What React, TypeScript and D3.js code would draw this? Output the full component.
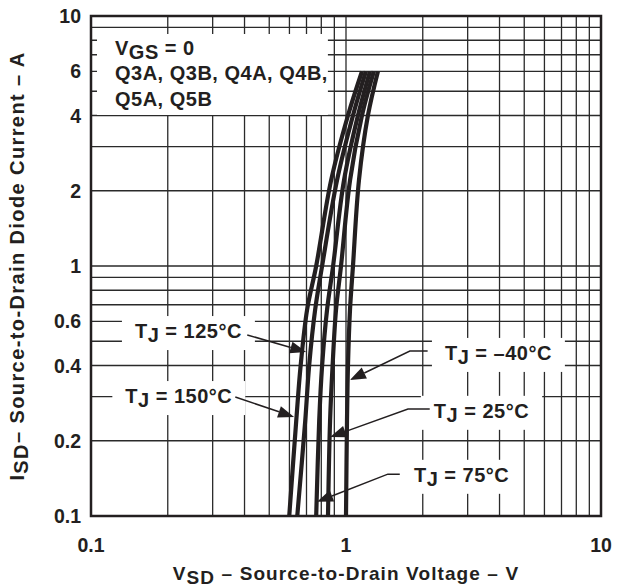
import React, { useEffect, useRef } from 'react';
import * as d3 from 'd3';

const WIDTH = 621;
const HEIGHT = 588;
const FONT = '"Liberation Sans", Arial, Helvetica, sans-serif';

// Source-to-drain diode current levels (A)
const currents = [0.1, 0.24, 0.4, 0.67, 1, 2.2, 4, 6];
// Source-to-drain voltage (V) at each current level, one array per junction temperature
const vf150 = [0.599, 0.638, 0.664, 0.704, 0.764, 0.874, 1.018, 1.155];
const vf125 = [0.644, 0.692, 0.717, 0.757, 0.806, 0.922, 1.065, 1.197];
const vf75 = [0.764, 0.785, 0.806, 0.843, 0.89, 0.982, 1.114, 1.241];
const vf25 = [0.85, 0.866, 0.886, 0.914, 0.956, 1.037, 1.155, 1.286];
const vfMinus40 = [1.0, 1.009, 1.018, 1.037, 1.065, 1.124, 1.219, 1.334];

const series = [
  { temp: '150', v: vf150 },
  { temp: '125', v: vf125 },
  { temp: '75', v: vf75 },
  { temp: '25', v: vf25 },
  { temp: '–40', v: vfMinus40 },
];

const xTickValues = [0.1, 1, 10];
const yTickValues = [0.1, 0.2, 0.4, 0.6, 1, 2, 4, 6, 10];
const minorSteps = [2, 3, 4, 5, 6, 7, 8, 9];

// Temperature call-outs: text centre, leader bend points and arrow tip, all in (V, A)
const callouts = [
  { temp: '125', at: [0.241, 0.515], leader: [[0.41, 0.53]], tip: [0.698, 0.453] },
  { temp: '150', at: [0.221, 0.283], leader: [[0.368, 0.299]], tip: [0.626, 0.249] },
  { temp: '–40', at: [3.96, 0.421], leader: [[2.09, 0.457], [1.78, 0.457]], tip: [1.036, 0.35] },
  { temp: '25', at: [3.4, 0.247], leader: [[2.13, 0.268], [1.75, 0.268]], tip: [0.866, 0.207] },
  { temp: '75', at: [2.84, 0.137], leader: [[1.625, 0.147], [1.459, 0.147]], tip: [0.77, 0.114] },
];

const partLines = ['Q3A, Q3B, Q4A, Q4B,', 'Q5A, Q5B'];

const App: React.FC = () => {
  const svgRef = useRef<SVGSVGElement>(null);

  useEffect(() => {
    if (!svgRef.current) return;
    const svg = d3.select(svgRef.current);
    svg.selectAll('*').remove();

    const margin = { top: 16, right: 20, bottom: 72, left: 91 };
    const innerW = WIDTH - margin.left - margin.right;
    const innerH = HEIGHT - margin.top - margin.bottom;

    const x = d3.scaleLog().domain([0.1, 10]).range([0, innerW]);
    const y = d3.scaleLog().domain([0.1, 10]).range([innerH, 0]);

    const g = svg.append('g').attr('transform', `translate(${margin.left},${margin.top})`);

    // grid
    const decades = [0.1, 1];
    const gridVals = decades.flatMap(d => minorSteps.map(s => d * s)).concat([1]);
    g.append('g')
      .selectAll('line')
      .data(gridVals)
      .enter()
      .append('line')
      .attr('x1', d => x(d)).attr('x2', d => x(d))
      .attr('y1', 0).attr('y2', innerH)
      .attr('stroke', '#2a2a2a').attr('stroke-width', 1.3);
    g.append('g')
      .selectAll('line')
      .data(gridVals)
      .enter()
      .append('line')
      .attr('y1', d => y(d)).attr('y2', d => y(d))
      .attr('x1', 0).attr('x2', innerW)
      .attr('stroke', '#2a2a2a').attr('stroke-width', 1.3);

    const fontSize = 20;

    // V_GS / parts box
    const info = g.append('g');
    const infoRect = info.append('rect').attr('fill', '#fff');
    const infoText = info.append('text')
      .attr('font-family', FONT).attr('font-weight', 'bold').attr('font-size', fontSize)
      .attr('letter-spacing', 0.5).attr('fill', '#231f20');
    const l1 = infoText.append('tspan').attr('x', 24).attr('y', 39);
    l1.append('tspan').text('V');
    l1.append('tspan').attr('dy', 4).text('GS');
    l1.append('tspan').attr('dy', -4).text(' = 0');
    partLines.forEach((t, i) => {
      infoText.append('tspan').attr('x', 24).attr('y', 64 + i * 26).text(t);
    });
    const ib = (infoText.node() as SVGTextElement).getBBox();
    infoRect.attr('x', ib.x - 18).attr('y', ib.y - 3).attr('width', ib.width + 18).attr('height', ib.height + 8);

    // curves
    const line = d3.line<number>()
      .x(d => x(d))
      .y((_, i) => y(currents[i]))
      .curve(d3.curveCatmullRom.alpha(0.5));
    g.append('g')
      .selectAll('path')
      .data(series)
      .enter()
      .append('path')
      .attr('d', d => line(d.v))
      .attr('fill', 'none')
      .attr('stroke', '#231f20')
      .attr('stroke-width', 4.2);

    // call-outs
    callouts.forEach(c => {
      const cg = g.append('g');
      const rect = cg.append('rect').attr('fill', '#fff');
      const t = cg.append('text')
        .attr('x', x(c.at[0])).attr('y', y(c.at[1]))
        .attr('text-anchor', 'middle')
        .attr('font-family', FONT).attr('font-weight', 'bold').attr('font-size', fontSize)
        .attr('letter-spacing', 0.5).attr('fill', '#231f20');
      t.append('tspan').text('T');
      t.append('tspan').attr('dy', 4).text('J');
      t.append('tspan').attr('dy', -4).text(` = ${c.temp}°C`);
      const b = (t.node() as SVGTextElement).getBBox();
      rect.attr('x', b.x - 13).attr('y', b.y - 4).attr('width', b.width + 26).attr('height', b.height + 8);

      const pts: [number, number][] = c.leader.map(p => [x(p[0]), y(p[1])]);
      const tip: [number, number] = [x(c.tip[0]), y(c.tip[1])];
      const last = pts[pts.length - 1];
      const ang = Math.atan2(tip[1] - last[1], tip[0] - last[0]);
      const len = 16;
      const hw = 6;
      const base: [number, number] = [tip[0] - len * Math.cos(ang), tip[1] - len * Math.sin(ang)];
      cg.append('path')
        .attr('d', d3.line()([...pts, base]))
        .attr('fill', 'none').attr('stroke', '#231f20').attr('stroke-width', 1.5);
      cg.append('path')
        .attr('d', d3.line()([
          tip,
          [base[0] + hw * Math.sin(ang), base[1] - hw * Math.cos(ang)],
          [base[0] - hw * Math.sin(ang), base[1] + hw * Math.cos(ang)],
        ]) + 'Z')
        .attr('fill', '#231f20');
    });

    // frame
    g.append('rect')
      .attr('width', innerW).attr('height', innerH)
      .attr('fill', 'none').attr('stroke', '#231f20').attr('stroke-width', 2.5);

    // tick labels
    const tickFmt = (d: number) => (d < 1 ? String(d) : d3.format('d')(d));
    g.append('g')
      .selectAll('text')
      .data(xTickValues)
      .enter()
      .append('text')
      .attr('x', d => x(d)).attr('y', innerH + 36)
      .attr('text-anchor', 'middle')
      .attr('font-family', FONT).attr('font-weight', 'bold').attr('font-size', 19.5)
      .attr('fill', '#231f20')
      .text(tickFmt);
    g.append('g')
      .selectAll('text')
      .data(yTickValues)
      .enter()
      .append('text')
      .attr('x', -10).attr('y', d => y(d)).attr('dy', '0.36em')
      .attr('text-anchor', 'end')
      .attr('font-family', FONT).attr('font-weight', 'bold').attr('font-size', 19.5)
      .attr('fill', '#231f20')
      .text(tickFmt);

    // axis titles
    const xt = svg.append('text')
      .attr('x', margin.left + innerW / 2).attr('y', 580)
      .attr('text-anchor', 'middle')
      .attr('font-family', FONT).attr('font-weight', 'bold').attr('font-size', 19)
      .attr('letter-spacing', 1.1).attr('fill', '#231f20');
    xt.append('tspan').text('V');
    xt.append('tspan').attr('dy', 3.5).text('SD');
    xt.append('tspan').attr('dy', -3.5).text(' – Source-to-Drain Voltage – V');

    const yt = svg.append('text')
      .attr('transform', `translate(24,${margin.top + innerH / 2}) rotate(-90)`)
      .attr('text-anchor', 'middle')
      .attr('font-family', FONT).attr('font-weight', 'bold').attr('font-size', 20)
      .attr('letter-spacing', 1.4).attr('fill', '#231f20');
    yt.append('tspan').text('I');
    yt.append('tspan').attr('dy', 3.5).text('SD');
    yt.append('tspan').attr('dy', -3.5).text('– Source-to-Drain Diode Current – A');
  }, []);

  return (
    <svg
      ref={svgRef}
      width={WIDTH}
      height={HEIGHT}
      style={{ position: 'absolute', left: 0, top: 0, background: '#fff' }}
    />
  );
};

export default App;
